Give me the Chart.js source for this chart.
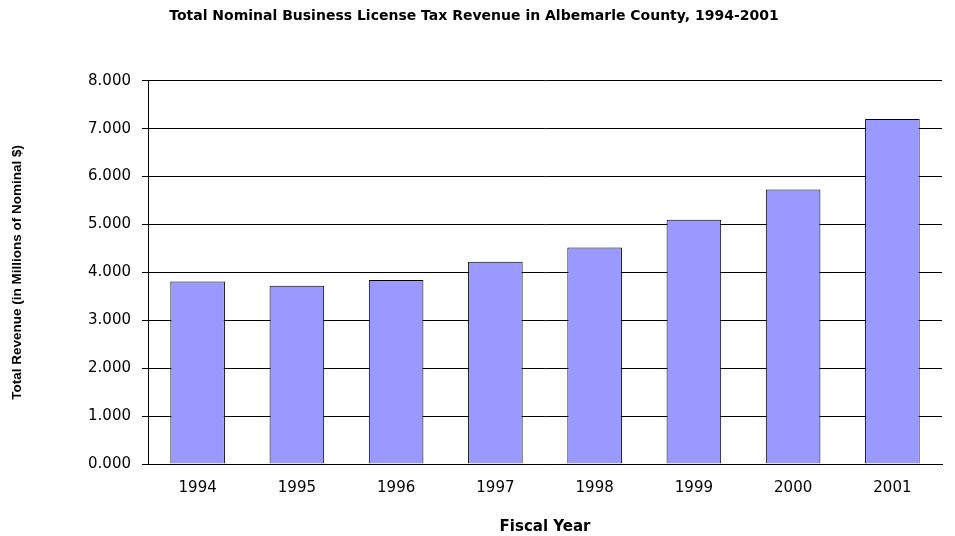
<!DOCTYPE html>
<html>
<head>
<meta charset="utf-8">
<script src="https://cdn.jsdelivr.net/npm/chart.js@4"></script>
<style>
    html, body { margin: 0; padding: 0; background: #fff; }
    #wrap { width: 955px; height: 536px; }
</style>
</head>
<body>
<div id="wrap"><canvas id="revenue-chart" width="955" height="536"></canvas></div>
<script>
// 年度ごとの営業許可税収（百万ドル）
const years = ['1994', '1995', '1996', '1997', '1998', '1999', '2000', '2001'];
const revenue = [3.81, 3.72, 3.84, 4.22, 4.52, 5.10, 5.73, 7.20];
const yTicks = [0, 1, 2, 3, 4, 5, 6, 7, 8];

const WIDE = '"DejaVu Sans", Verdana, sans-serif';
const NARROW = 'Arial, "Liberation Sans", sans-serif';

const ctx = document.getElementById('revenue-chart').getContext('2d');
new Chart(ctx, {
    type: 'bar',
    data: {
        labels: years,
        datasets: [{
            data: revenue,
            backgroundColor: '#9999ff',
            borderColor: '#000000',
            borderWidth: 1,
            barPercentage: 0.55,
            categoryPercentage: 1.0
        }]
    },
    options: {
        responsive: false,
        animation: false,
        layout: { padding: { left: 6, right: 13, top: 0, bottom: 0 } },
        plugins: {
            legend: { display: false },
            tooltip: { enabled: false },
            title: {
                display: true,
                text: 'Total Nominal Business License Tax Revenue in Albemarle County, 1994-2001',
                color: '#000',
                font: { family: WIDE, size: 14, weight: 'bold' },
                padding: { top: 8, bottom: 56 }
            }
        },
        scales: {
            x: {
                grid: { display: false },
                border: { display: true, color: '#000', width: 1 },
                ticks: {
                    color: '#000',
                    font: { family: WIDE, size: 15 },
                    padding: 7
                },
                title: {
                    display: true,
                    text: 'Fiscal Year',
                    color: '#000',
                    font: { family: WIDE, size: 15, weight: 'bold' },
                    padding: { top: 14, bottom: 0 }
                }
            },
            y: {
                min: 0,
                max: 8,
                afterBuildTicks: scale => {
                    scale.ticks = yTicks.map(v => ({ value: v }));
                },
                afterFit: scale => { scale.width = 142; },
                grid: {
                    color: '#000',
                    lineWidth: 1,
                    tickLength: 6,
                    drawTicks: true
                },
                border: { display: true, color: '#000', width: 1 },
                ticks: {
                    color: '#000',
                    font: { family: WIDE, size: 15 },
                    padding: 11,
                    callback: v => v.toFixed(3)
                },
                title: {
                    display: true,
                    text: 'Total Revenue (in Millions of Nominal $)',
                    color: '#000',
                    font: { family: NARROW, size: 13.5, weight: 'bold' },
                    padding: { top: 3, bottom: 0 }
                }
            }
        }
    }
});
</script>
</body>
</html>
